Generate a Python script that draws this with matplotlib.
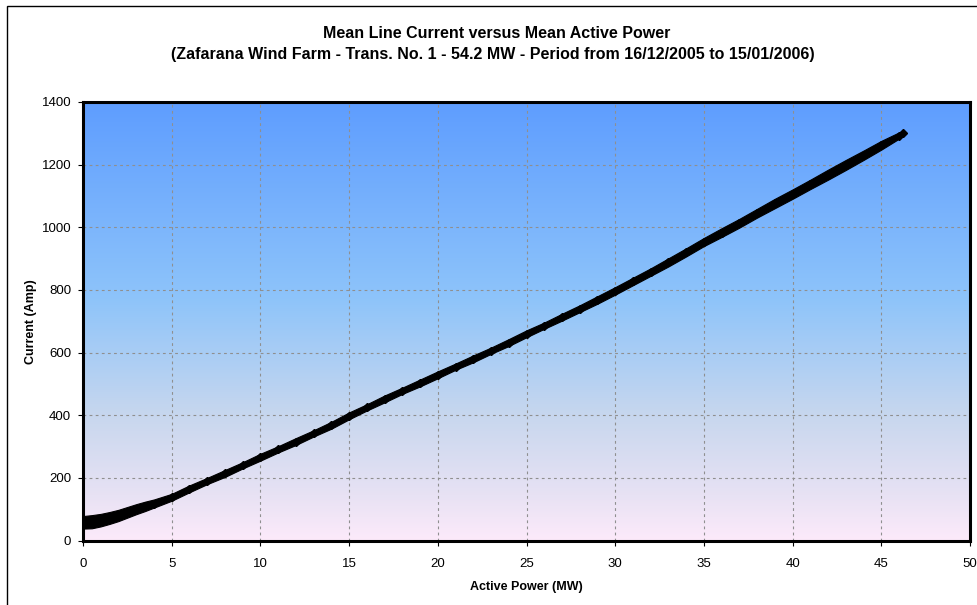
import numpy as np
import matplotlib
matplotlib.use("Agg")
import matplotlib.pyplot as plt
from matplotlib.colors import LinearSegmentedColormap
from matplotlib.patches import Rectangle

plt.rcParams['font.family'] = ['Liberation Sans', 'DejaVu Sans']

# ---- data ----
active_power_mw = [0, 0.5, 1, 1.5, 2, 2.5, 3, 3.5, 4, 5, 6, 7, 8, 9, 10, 11, 12, 13, 14, 15,
                   16, 17, 18, 19, 20, 21, 22, 23, 24, 25, 26, 27, 28, 29, 30,
                   31, 32, 33, 34, 35, 36, 37, 38, 39, 40, 41, 42, 43, 44, 45, 46, 46.2]
current_amp = [58, 60, 65, 72, 80, 90, 100, 109, 118, 138, 165, 190, 214, 240, 266, 291, 316, 342, 368, 398,
               425, 452, 478, 503, 529, 555, 580, 606, 632, 660, 686, 713, 740, 768, 797,
               827, 857, 888, 920, 953, 983, 1013, 1045, 1076, 1106, 1137, 1168, 1199, 1230, 1262, 1293, 1300]
current_spread = [20, 21, 20, 19, 18, 17, 16, 15, 13, 11, 11, 10, 11, 10, 11, 10, 11, 10, 11, 11,
                  10, 11, 10, 11, 11, 10, 11, 10, 11, 11, 10, 11, 11, 12, 12,
                  12, 12, 13, 13, 13, 14, 14, 14, 15, 15, 15, 16, 16, 15, 14, 10, 7]

x_ticks = [0, 5, 10, 15, 20, 25, 30, 35, 40, 45, 50]
y_ticks = [0, 200, 400, 600, 800, 1000, 1200, 1400]

title_line1 = "Mean Line Current versus Mean Active Power"
title_line2 = "(Zafarana Wind Farm - Trans. No. 1 - 54.2 MW - Period from 16/12/2005 to 15/01/2006)"
x_label = "Active Power (MW)"
y_label = "Current (Amp)"

# ---- figure ----
W, H = 977, 605
fig = plt.figure(figsize=(W / 100, H / 100), dpi=100)
fig.patch.set_facecolor('white')

# outer chart border (left and top visible)
fig.add_artist(Rectangle((7 / W, -0.05), 1.2, 1 - 6 / H + 0.05, transform=fig.transFigure,
                         fill=False, edgecolor='black', linewidth=1.0))

ax = fig.add_axes([83 / W, 1 - 540.5 / H, (970 - 83) / W, (540.5 - 102) / H])

# gradient background
stops = [(0.0, (252 / 255, 234 / 255, 250 / 255)),
         (0.10, (232 / 255, 226 / 255, 244 / 255)),
         (0.28, (200 / 255, 215 / 255, 238 / 255)),
         (0.55, (142 / 255, 196 / 255, 250 / 255)),
         (1.0, (94 / 255, 157 / 255, 255 / 255))]
cmap = LinearSegmentedColormap.from_list('bg', stops)
grad = np.linspace(0, 1, 256).reshape(-1, 1)
ax.imshow(grad, cmap=cmap, origin='lower', aspect='auto', extent=[0, 1, 0, 1],
          transform=ax.transAxes, zorder=0, interpolation='bicubic')

ax.set_xlim(0, 50)
ax.set_ylim(0, 1400)
ax.set_xticks(x_ticks)
ax.set_yticks(y_ticks)

ax.grid(True, color='#8f8f8f', linestyle=(0, (2.5, 3)), linewidth=0.8, zorder=1)
ax.set_axisbelow(True)

p = np.array(active_power_mw, dtype=float)
c = np.array(current_amp, dtype=float)
s = np.array(current_spread, dtype=float)
ax.fill_between(p, c - s, c + s, color='black', linewidth=0.8, edgecolor='black', zorder=3)
ax.plot(p, c, linestyle='none', marker='D', markersize=4, color='black', zorder=4)

for sp in ax.spines.values():
    sp.set_linewidth(2.2)
    sp.set_color('black')
    sp.set_zorder(5)

ax.tick_params(axis='both', direction='out', length=3.5, width=0.8, color='black',
               labelsize=9.5, pad=3)
ax.tick_params(axis='x', pad=9)
ax.tick_params(axis='y', pad=5)

ax.set_xlabel(x_label, fontsize=9, fontweight='bold', labelpad=8)
ax.set_ylabel(y_label, fontsize=9, fontweight='bold', labelpad=3)

fig.text(497 / W, 1 - 33 / H, title_line1, ha='center', va='center', fontsize=11.5, fontweight='bold')
fig.text(493 / W, 1 - 55 / H, title_line2, ha='center', va='center', fontsize=11.5, fontweight='bold')

fig.savefig('out.png', dpi=100)
